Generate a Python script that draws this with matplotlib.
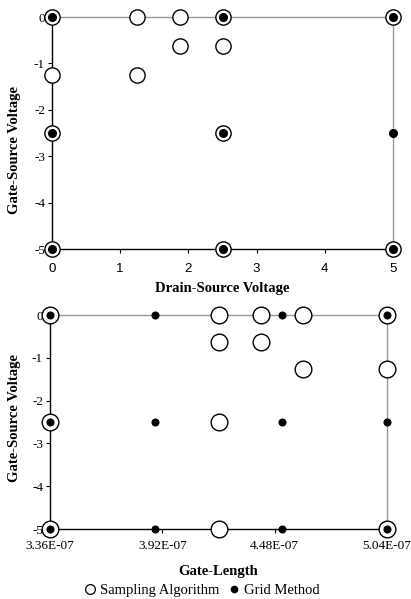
import matplotlib
matplotlib.use("Agg")
import matplotlib.pyplot as plt
from matplotlib.lines import Line2D

plt.rcParams['font.family'] = ['Liberation Serif', 'DejaVu Serif']

# top chart: drain-source voltage vs gate-source voltage
vds_sampling = [0, 1.25, 1.875, 2.5, 5, 1.875, 2.5, 0, 1.25, 0, 2.5, 0, 2.5, 5]
vgs_sampling_top = [0, 0, 0, 0, 0, -0.625, -0.625, -1.25, -1.25, -2.5, -2.5, -5, -5, -5]
vds_grid = [0, 2.5, 5, 0, 2.5, 5, 0, 2.5, 5]
vgs_grid_top = [0, 0, 0, -2.5, -2.5, -2.5, -5, -5, -5]

# bottom chart: gate length vs gate-source voltage
length_sampling = [3.36e-7, 4.20e-7, 4.41e-7, 4.62e-7, 5.04e-7, 4.20e-7, 4.41e-7,
                   4.62e-7, 5.04e-7, 3.36e-7, 4.20e-7, 3.36e-7, 4.20e-7, 5.04e-7]
vgs_sampling_bot = [0, 0, 0, 0, 0, -0.625, -0.625, -1.25, -1.25, -2.5, -2.5, -5, -5, -5]
length_grid = [3.36e-7, 3.883e-7, 4.517e-7, 5.04e-7] * 3
vgs_grid_bot = [0] * 4 + [-2.5] * 4 + [-5] * 4

length_ticks = [3.36e-7, 3.92e-7, 4.48e-7, 5.04e-7]
length_labels = ['3.36E-07', '3.92E-07', '4.48E-07', '5.04E-07']


def style_axes(ax):
    ax.spines['left'].set_color('black')
    ax.spines['bottom'].set_color('black')
    ax.spines['top'].set_color('#999999')
    ax.spines['right'].set_color('#999999')
    for s in ax.spines.values():
        s.set_linewidth(1.0)
    ax.tick_params(axis='both', direction='out', length=3, width=0.8, labelsize=9.5)
    ax.tick_params(axis='y', pad=2)
    ax.set_yticks([0, -1, -2, -3, -4, -5])
    ax.set_yticklabels(['0', '-1', '-2', '-3', '-4', '-5'])
    ax.set_ylim(-5, 0)


fig = plt.figure(figsize=(4.11, 5.99), dpi=100)

ax1 = fig.add_axes([52 / 411, 1 - 249 / 599, (393 - 52) / 411, (249 - 17) / 599])
ax1.plot(vds_sampling, vgs_sampling_top, 'o', ms=11, mfc='white', mec='black', mew=1.0,
         clip_on=False, zorder=3)
ax1.plot(vds_grid, vgs_grid_top, 'o', ms=5.5, color='black', clip_on=False, zorder=4)
ax1.set_xlim(0, 5)
style_axes(ax1)
ax1.set_xticks([0, 1, 2, 3, 4, 5])
ax1.tick_params(axis='x', pad=7)
for lbl in ax1.get_xticklabels():
    lbl.set_family(['Liberation Sans', 'DejaVu Sans'])
    lbl.set_fontsize(9.5)
ax1.set_xlabel('Drain-Source Voltage', fontsize=10.5, fontweight='bold', labelpad=5)

ax2 = fig.add_axes([50 / 411, 1 - 529 / 599, (387 - 50) / 411, (529 - 315) / 599])
ax2.plot(length_sampling, vgs_sampling_bot, 'o', ms=12, mfc='white', mec='black', mew=1.0,
         clip_on=False, zorder=3)
ax2.plot(length_grid, vgs_grid_bot, 'o', ms=4.8, color='black', clip_on=False, zorder=4)
ax2.set_xlim(3.36e-7, 5.04e-7)
style_axes(ax2)
ax2.set_xticks(length_ticks)
ax2.set_xticklabels(length_labels)
ax2.tick_params(axis='x', pad=5)
ax2.set_xlabel('Gate-Length', fontsize=10.5, fontweight='bold', labelpad=9)

fig.text(15 / 411, 1 - 150 / 599, 'Gate-Source Voltage', rotation=90, ha='center', va='center',
         fontsize=10.5, fontweight='bold')
fig.text(15 / 411, 1 - 418 / 599, 'Gate-Source Voltage', rotation=90, ha='center', va='center',
         fontsize=10.5, fontweight='bold')

handles = [Line2D([], [], ls='none', marker='o', ms=7, mfc='white', mec='black', mew=0.9),
           Line2D([], [], ls='none', marker='o', ms=4.5, color='black')]
fig.legend(handles, ['Sampling Algorithm', 'Grid Method'], loc='center',
           bbox_to_anchor=(202 / 411, 1 - 590 / 599), ncol=2, frameon=False,
           fontsize=10.5, handlelength=0.8, handletextpad=0.3, columnspacing=0.6)

fig.savefig('out.png', dpi=100)
